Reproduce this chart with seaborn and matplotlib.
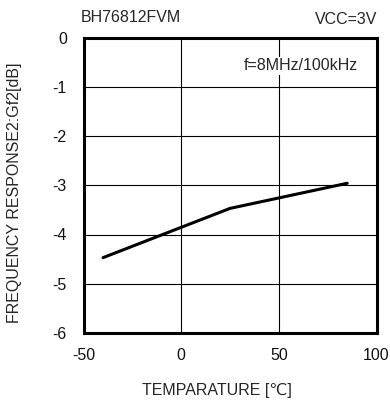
import matplotlib
matplotlib.use("Agg")
import matplotlib.pyplot as plt
import seaborn as sns
import pandas as pd

# curve
temp = [-40, 25, 85]
gf2 = [-4.47, -3.47, -2.96]

x_ticks = [-50, 0, 50, 100]
y_ticks = [-6, -5, -4, -3, -2, -1, 0]

df = pd.DataFrame({"temp": temp, "gf2": gf2})

sns.set_style("white")
plt.rcParams['font.family'] = ['Liberation Sans', 'DejaVu Sans']
plt.rcParams['axes.unicode_minus'] = False

W, H = 390, 404
fig = plt.figure(figsize=(3.9, 4.04), dpi=100)
ax = fig.add_axes([83.5 / W, 1 - 333 / H, 293 / W, 295.5 / H])

sns.lineplot(data=df, x="temp", y="gf2", color="black", linewidth=2.2, ax=ax)

ax.set_xlim(-50, 100)
ax.set_ylim(-6, 0)
ax.set_xticks(x_ticks)
ax.set_yticks(y_ticks)
ax.grid(True, color="black", linewidth=0.8)
ax.tick_params(length=0, labelsize=11.5, colors="#111111")
ax.tick_params(axis="y", pad=12)
ax.tick_params(axis="x", pad=11)
for s in ax.spines.values():
    s.set_linewidth(2.2)
    s.set_color("black")
ax.set_xlabel("")
ax.set_ylabel("")

fs = 11.5
fig.text(216.5 / W, 1 - 390 / H, "TEMPARATURE [\u2103]", fontsize=fs, ha="center", va="center")
fig.text(15 / W, 1 - 193 / H, "FREQUENCY RESPONSE2:Gf2[dB]", fontsize=fs, ha="center", va="center",
         rotation=90)
fig.text(130.5 / W, 1 - 17 / H, "BH76812FVM", fontsize=fs, ha="center", va="center")
fig.text(377 / W, 1 - 19 / H, "VCC=3V", fontsize=fs, ha="right", va="center")
ax.text(0.935, 0.905, "f=8MHz/100kHz", transform=ax.transAxes, fontsize=fs, ha="right", va="center",
        bbox=dict(facecolor="white", edgecolor="none", pad=1))

fig.savefig("out.png", dpi=100)
